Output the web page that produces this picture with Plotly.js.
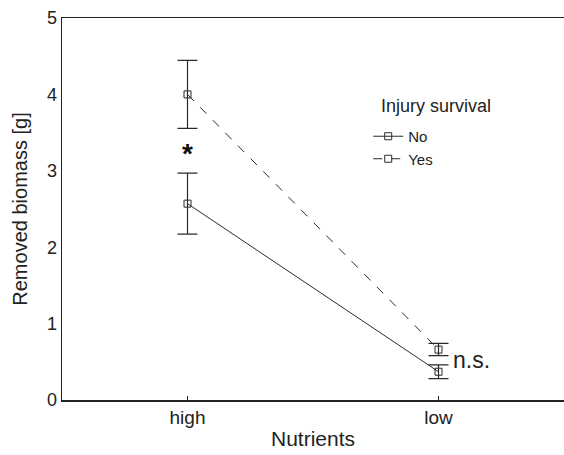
<!DOCTYPE html>
<html>
<head>
<meta charset="utf-8">
<script src="https://cdn.plot.ly/plotly-3.0.1.min.js"></script>
<style>html,body{margin:0;padding:0;background:#fff;}</style>
</head>
<body>
<div id="chart" style="width:564px;height:455px;"></div>
<script>
const categories = ["high", "low"];
const seriesNames = ["No", "Yes"];
const noValues = [2.57, 0.37];
const noErrors = [0.40, 0.09];
const yesValues = [4.0, 0.66];
const yesErrors = [0.445, 0.08];
const yTicks = [0, 1, 2, 3, 4, 5];

const lineColor = "#2a2a2a";
function trace(name, vals, errs, dash) {
  return {
    type: "scatter", mode: "lines+markers", name: name,
    x: categories, y: vals,
    line: {color: lineColor, width: 1, dash: dash},
    marker: {symbol: "square-open", size: 7, color: lineColor, line: {width: 1}},
    error_y: {type: "data", array: errs, visible: true, color: lineColor, thickness: 1.2, width: 10}
  };
}
const data = [
  trace(seriesNames[0], noValues, noErrors, "solid"),
  trace(seriesNames[1], yesValues, yesErrors, "dash")
];
const font = "Liberation Sans, Arial, sans-serif";
const layout = {
  width: 564, height: 455,
  margin: {l: 62, r: 0, t: 18, b: 55},
  paper_bgcolor: "#fff", plot_bgcolor: "#fff",
  font: {family: font, color: "#222"},
  showlegend: true,
  legend: {
    x: 0.61, y: 0.733, xanchor: "left", yanchor: "top",
    font: {size: 15, color: "#222"},
    bgcolor: "rgba(0,0,0,0)", itemwidth: 30, tracegroupgap: 0
  },
  xaxis: {
    type: "category", range: [-0.5, 1.5],
    showline: true, mirror: true, linecolor: "#222", linewidth: 1.5,
    ticks: "inside", ticklen: 4, tickcolor: "#222",
    showgrid: false, zeroline: false,
    tickfont: {size: 19, color: "#222"},
    title: {text: "Nutrients", font: {size: 21, color: "#222"}, standoff: 4}
  },
  yaxis: {
    range: [0, 5], tickvals: yTicks,
    showline: true, linecolor: "#222", linewidth: 1.5,
    ticks: "", showgrid: false, zeroline: false,
    tickfont: {size: 18, color: "#222"},
    title: {text: "Removed biomass [g]", font: {size: 20, color: "#222"}, standoff: 14}
  },
  annotations: [
    {x: 0.632, y: 0.738, xref: "paper", yref: "paper", xanchor: "left", yanchor: "bottom",
     text: "Injury survival", showarrow: false, font: {size: 18, color: "#222"}},
    {x: "high", y: 3.22, xref: "x", yref: "y", text: "<b>*</b>", showarrow: false,
     font: {size: 28, color: "#111"}},
    {x: 1.13, y: 0.53, xref: "x", yref: "y", text: "n.s.", showarrow: false,
     font: {size: 23, color: "#222"}}
  ]
};
Plotly.newPlot("chart", data, layout, {displayModeBar: false, staticPlot: true});
</script>
</body>
</html>
